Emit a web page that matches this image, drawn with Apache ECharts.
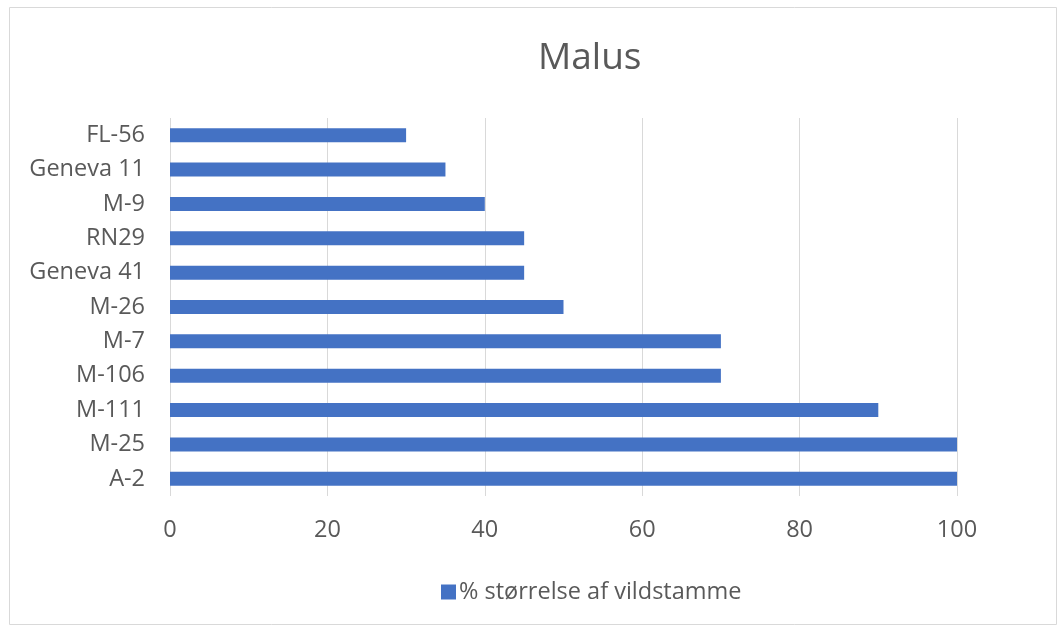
<!DOCTYPE html>
<html>
<head>
<meta charset="utf-8">
<script src="https://cdn.jsdelivr.net/npm/echarts@6/dist/echarts.min.js"></script>
<style>
  html, body { margin: 0; padding: 0; background: #fff; }
  #chart { width: 1061px; height: 628px; }
</style>
</head>
<body>
<div id="chart"></div>
<script>
// kategorier nedefra og op
var rootstocks = ['A-2', 'M-25', 'M-111', 'M-106', 'M-7', 'M-26', 'Geneva 41', 'RN29', 'M-9', 'Geneva 11', 'FL-56']
var sizePercent = [100, 100, 90, 70, 70, 50, 45, 45, 40, 35, 30]
var seriesName = '% størrelse af vildstamme'

var textColor = '#595959'
var fontFamily = '"Open Sans", "Liberation Sans", sans-serif'

let chart = echarts.init(document.getElementById('chart'))

var option = {
  animation: false,
  title: {
    text: 'Malus',
    left: 533,
    top: 35,
    textStyle: {
      color: textColor,
      fontSize: 37,
      fontWeight: 'normal',
      fontFamily: fontFamily,
    },
  },
  graphic: [
    {
      type: 'rect',
      shape: { x: 9.5, y: 7.5, width: 1047, height: 617 },
      style: { fill: 'none', stroke: '#d9d9d9', lineWidth: 1 },
      silent: true,
    },
  ],
  legend: {
    data: [seriesName],
    left: 436,
    top: 575,
    icon: 'rect',
    itemWidth: 15,
    itemHeight: 15,
    itemGap: 5,
    textStyle: {
      color: textColor,
      fontSize: 23.5,
      fontFamily: fontFamily,
      padding: [0, 0, 0, -2],
    },
  },
  grid: {
    top: 118,
    bottom: 132,
    left: 170,
    right: 104,
    containLabel: false,
  },
  xAxis: {
    type: 'value',
    min: 0,
    max: 100,
    interval: 20,
    axisLine: { show: false },
    axisTick: { show: false },
    splitLine: { lineStyle: { color: '#d9d9d9', width: 1 } },
    axisLabel: {
      color: textColor,
      fontSize: 23.5,
      fontFamily: fontFamily,
      margin: 22,
    },
  },
  yAxis: {
    type: 'category',
    data: rootstocks,
    axisLine: { show: false },
    axisTick: { show: false },
    axisLabel: {
      color: textColor,
      fontSize: 23.5,
      fontFamily: fontFamily,
      margin: 25,
    },
  },
  series: [
    {
      name: seriesName,
      type: 'bar',
      data: sizePercent,
      barWidth: 14,
      itemStyle: {
        color: '#4472c4',
      },
    },
  ],
}
chart.setOption(option)

window.addEventListener('resize', function () {
  chart.resize()
})
</script>
</body>
</html>
